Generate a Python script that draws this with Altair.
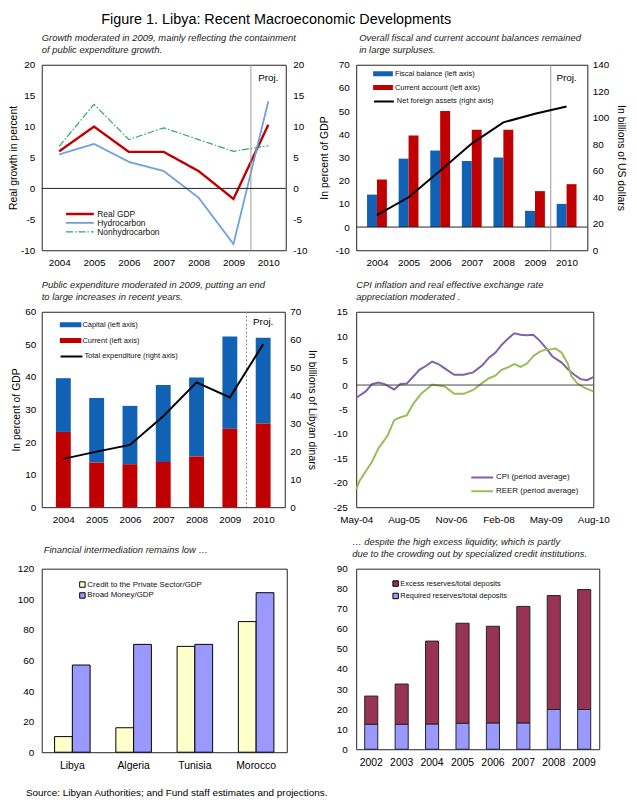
import altair as alt
import pandas as pd

FONT = "Liberation Sans"

# ---------------- data ----------------
years = [2004, 2005, 2006, 2007, 2008, 2009, 2010]
proj_boundary = [2009.5]
proj_label = ["Proj."]

growth_series = ["Real GDP", "Hydrocarbon", "Nonhydrocarbon"]
real_gdp = [6.0, 10.0, 5.9, 5.9, 2.8, -1.7, 10.3]
hydrocarbon = [5.5, 7.2, 4.3, 2.8, -1.5, -9.0, 14.1]
nonhydrocarbon = [6.8, 13.6, 7.9, 9.8, 7.9, 6.0, 6.9]

balance_series = ["Fiscal balance (left axis)", "Current account (left axis)"]
fiscal_balance = [14.0, 29.5, 33.0, 28.5, 30.0, 7.0, 10.0]
current_account = [20.5, 39.5, 50.0, 42.0, 42.0, 15.5, 18.5]
nfa_series = ["Net foreign assets (right axis)"]
net_foreign_assets = [26.5, 40.0, 60.0, 80.5, 96.5, 103.0, 108.5]

expend_series = ["Capital (left axis)", "Current (left axis)"]
exp_capital = [16.5, 19.8, 17.9, 23.6, 24.2, 28.3, 26.3]
exp_current = [23.1, 13.7, 13.2, 13.9, 15.6, 24.1, 25.7]
total_series = ["Total expenditure (right axis)"]
total_expenditure = [17.3, 19.9, 22.3, 32.6, 44.7, 39.3, 58.4]

# months counted from May-2004
month_labels = ["May-04", "Aug-05", "Nov-06", "Feb-08", "May-09", "Aug-10"]
month_ticks = [0, 15, 30, 45, 60, 75]
price_series = ["CPI (period average)", "REER (period average)"]
cpi_month = [0, 1, 3, 5, 7, 9, 12, 14, 16, 18, 20, 22, 24, 26, 28, 31, 34, 37, 40, 42,
             44, 46, 48, 50, 52, 54, 56, 58, 60, 62, 65, 67, 69, 71, 73, 75]
cpi_value = [-2.6, -2.2, -1.3, 0.2, 0.5, 0.2, -0.9, 0.2, 0.3, 1.7, 3.1, 3.9, 4.8, 4.3, 3.4,
             2.1, 2.1, 2.6, 4.1, 5.6, 6.6, 8.2, 9.5, 10.6, 10.3, 10.2, 10.3, 9.1, 7.6, 5.9,
             4.6, 3.2, 2.1, 1.2, 1.0, 1.6]
reer_month = [0, 1, 3, 5, 7, 10, 12, 14, 16, 18, 20, 21, 23, 24, 26, 28, 31, 34, 37, 40,
              42, 44, 46, 48, 50, 52, 54, 56, 58, 60, 62, 63, 65, 67, 68, 70, 72, 75]
reer_value = [-21.4, -19.7, -17.7, -15.7, -13.0, -10.3, -7.2, -6.6, -6.2, -3.9, -2.2, -1.5,
              -0.5, 0.1, -0.1, -0.3, -1.8, -1.8, -1.0, 0.5, 1.4, 1.9, 3.1, 3.6, 4.3, 3.7,
              4.4, 5.9, 6.8, 7.3, 7.3, 7.5, 6.6, 4.3, 1.9, 0.3, -0.5, -1.3]

countries = ["Libya", "Algeria", "Tunisia", "Morocco"]
fin_series = ["Credit to the Private Sector/GDP", "Broad Money/GDP"]
credit_gdp = [10.2, 16.0, 69.2, 85.4]
broad_money_gdp = [57.0, 70.5, 70.5, 104.3]

reserve_years = ["2002", "2003", "2004", "2005", "2006", "2007", "2008", "2009"]
reserve_series = ["Excess reserves/total deposits", "Required reserves/total deposits"]
excess_reserves = [14.1, 20.1, 41.4, 49.9, 48.3, 58.2, 56.8, 59.8]
required_reserves = [12.4, 12.4, 12.5, 12.9, 13.0, 13.0, 19.8, 19.8]

zero_value = [0]

# ---------------- helpers ----------------
def panel_title(lines, offset=5, dx=0):
    return alt.TitleParams(text=lines, anchor="start", frame="group", font=FONT,
                           fontSize=9.5, fontStyle="italic", fontWeight="normal",
                           color="#222222", offset=offset, lineHeight=12, dx=dx)


def yaxis(vals, title=None, orient="left", pad=4, tpad=4, tsize=10.5):
    return alt.Axis(values=list(vals), orient=orient, title=title, ticks=False,
                    domain=False, grid=False, labelPadding=pad, titlePadding=tpad,
                    labelFont=FONT, labelFontSize=10, labelColor="black",
                    labelExpr="'' + datum.value",
                    titleFont=FONT, titleFontSize=tsize, titleFontWeight="normal",
                    titleColor="black", labelOverlap=False)


def year_x():
    return alt.X("year:Q", title=None,
                 scale=alt.Scale(domain=[2003.5, 2010.5], nice=False, zero=False),
                 axis=alt.Axis(values=years, format="d", title=None, ticks=False,
                               domain=False, grid=False, labelPadding=7,
                               labelFont=FONT, labelFontSize=10, labelColor="black",
                               labelFlush=False, labelOverlap=False))


def long_df(keys, keyname, series_names, *value_lists):
    rows = []
    for s, vals in zip(series_names, value_lists):
        for k, v in zip(keys, vals):
            rows.append({keyname: k, "series": s, "value": v})
    return pd.DataFrame(rows)


proj_df = pd.DataFrame({"year": proj_boundary})
proj_txt_df = pd.DataFrame({"year": [years[-1]], "label": proj_label})
zero_df = pd.DataFrame({"value": zero_value})

# ---------------- panel 1: growth ----------------
growth_df = long_df(years, "year", growth_series, real_gdp, hydrocarbon, nonhydrocarbon)
g_leg = alt.Legend(title=None, orient="none", legendX=23, legendY=146,
                   symbolType="stroke", symbolSize=784, labelFont=FONT,
                   labelFontSize=8.5, labelColor="#111111", rowPadding=0,
                   clipHeight=9, labelOffset=2)
y1 = alt.Y("value:Q", scale=alt.Scale(domain=[-10, 20], nice=False),
           axis=yaxis(range(-10, 21, 5), "Real growth in percent", pad=7, tpad=2))
g_lines = alt.Chart(growth_df).mark_line().encode(
    x=year_x(), y=y1,
    color=alt.Color("series:N", scale=alt.Scale(domain=growth_series,
                    range=["#C00000", "#6F9FDC", "#2FA866"]), legend=g_leg),
    strokeDash=alt.StrokeDash("series:N", scale=alt.Scale(domain=growth_series,
                              range=[[1, 0], [1, 0], [7, 2, 1.5, 2]]), legend=g_leg),
    strokeWidth=alt.StrokeWidth("series:N", scale=alt.Scale(domain=growth_series,
                                range=[2.4, 1.2, 1.2]), legend=g_leg),
)
g_proj = alt.Chart(proj_df).mark_rule(color="#999999", strokeWidth=1).encode(
    x=alt.X("year:Q", title=None))
g_txt = alt.Chart(proj_txt_df).mark_text(font=FONT, fontSize=10, baseline="top").encode(
    x=alt.X("year:Q", title=None), y=alt.value(8), text="label:N")
g_zero = alt.Chart(zero_df).mark_rule(color="#222222", strokeWidth=1).encode(
    y=alt.Y("value:Q", scale=alt.Scale(domain=[-10, 20], nice=False),
            axis=yaxis(range(-10, 21, 5), None, orient="right", pad=7)))
panel1 = alt.layer(alt.layer(g_lines, g_proj, g_txt), g_zero).resolve_scale(
    y="independent").properties(
    width=246, height=187,
    title=panel_title(["Growth moderated in 2009, mainly reflecting the containment",
                       "of  public expenditure growth."]))

# ---------------- panel 2: balances ----------------
bal_df = long_df(years, "year", balance_series, fiscal_balance, current_account)
b_leg = alt.Legend(title=None, orient="none", legendX=17, legendY=3,
                   symbolType="M-1,-0.25H1V0.25H-1Z", symbolSize=400,
                   symbolStrokeWidth=0, labelFont=FONT, labelFontSize=7.5,
                   labelColor="#111111", clipHeight=12, rowPadding=2, labelOffset=2)
color2 = alt.Color("series:N", scale=alt.Scale(domain=balance_series,
                   range=["#1162B5", "#C00000"]), legend=b_leg)
y2 = alt.Y("value:Q", scale=alt.Scale(domain=[-10, 70], nice=False),
           axis=yaxis(range(-10, 71, 10), "In percent of GDP", pad=7, tpad=5))
b_fiscal = alt.Chart(bal_df).transform_filter(
    alt.datum.series == balance_series[0]).mark_bar(width=10, xOffset=-5).encode(
    x=year_x(), y=y2, color=color2)
b_current = alt.Chart(bal_df).transform_filter(
    alt.datum.series == balance_series[1]).mark_bar(width=10, xOffset=5).encode(
    x=year_x(), y=y2, color=color2)
b_zero = alt.Chart(zero_df).mark_rule(color="#222222", strokeWidth=1).encode(y=y2)
b_proj = alt.Chart(proj_df).mark_rule(color="#999999", strokeWidth=1).encode(
    x=year_x())
b_txt = alt.Chart(proj_txt_df).mark_text(font=FONT, fontSize=10, baseline="top").encode(
    x=year_x(), y=alt.value(8), text="label:N")
nfa_df = long_df(years, "year", nfa_series, net_foreign_assets)
n_leg = alt.Legend(title=None, orient="none", legendX=17, legendY=31,
                   symbolType="stroke", symbolSize=400, symbolStrokeWidth=2,
                   labelFont=FONT, labelFontSize=7.5, labelColor="#111111",
                   clipHeight=12, labelOffset=2)
b_nfa = alt.Chart(nfa_df).mark_line(strokeWidth=2).encode(
    x=year_x(),
    y=alt.Y("value:Q", scale=alt.Scale(domain=[0, 140], nice=False),
            axis=yaxis(range(0, 141, 20), "In billions of US dollars",
                       orient="right", pad=5, tpad=7)),
    stroke=alt.Stroke("series:N", scale=alt.Scale(domain=nfa_series, range=["black"]),
                      legend=n_leg))
panel2 = alt.layer(alt.layer(b_fiscal, b_current, b_zero, b_proj, b_txt), b_nfa
                   ).resolve_scale(y="independent").properties(
    width=233, height=187,
    title=panel_title(["Overall fiscal and current account balances remained",
                       "in large surpluses."], dx=3))

# ---------------- panel 3: expenditure ----------------
exp_df = long_df(years, "year", expend_series, exp_capital, exp_current)
e_leg = alt.Legend(title=None, orient="none", legendX=18, legendY=7,
                   symbolType="M-1,-0.23H1V0.23H-1Z", symbolSize=484,
                   symbolStrokeWidth=0, labelFont=FONT, labelFontSize=7.5,
                   labelColor="#111111", clipHeight=12, rowPadding=4, labelOffset=1)
e_bars = alt.Chart(exp_df).mark_bar(width=15).encode(
    x=year_x(),
    y=alt.Y("value:Q", stack="zero", scale=alt.Scale(domain=[0, 60], nice=False),
            axis=yaxis(range(0, 61, 10), "In percent of GDP", pad=6, tpad=3)),
    color=alt.Color("series:N", scale=alt.Scale(domain=expend_series,
                    range=["#1162B5", "#C00000"]), legend=e_leg),
    order=alt.Order("series:N", sort="descending"))
e_proj = alt.Chart(proj_df).mark_rule(color="#888888", strokeWidth=1,
                                      strokeDash=[2, 2]).encode(x=year_x())
e_txt = alt.Chart(proj_txt_df).mark_text(font=FONT, fontSize=10, baseline="top").encode(
    x=year_x(), y=alt.value(5), text="label:N")
tot_df = long_df(years, "year", total_series, total_expenditure)
t_leg = alt.Legend(title=None, orient="none", legendX=18, legendY=39,
                   symbolType="stroke", symbolSize=484, symbolStrokeWidth=2,
                   labelFont=FONT, labelFontSize=7.5, labelColor="#111111",
                   clipHeight=12, labelOffset=1)
e_tot = alt.Chart(tot_df).mark_line(strokeWidth=2).encode(
    x=year_x(),
    y=alt.Y("value:Q", scale=alt.Scale(domain=[0, 70], nice=False),
            axis=yaxis(range(0, 71, 10), "In billions of Libyan dinars",
                       orient="right", pad=5, tpad=6)),
    stroke=alt.Stroke("series:N", scale=alt.Scale(domain=total_series, range=["black"]),
                      legend=t_leg))
panel3 = alt.layer(alt.layer(e_bars, e_proj, e_txt), e_tot).resolve_scale(
    y="independent").properties(
    width=245, height=197,
    title=panel_title(["Public expenditure moderated in 2009, putting an end",
                       "to large increases in recent years."]))

# ---------------- panel 4: CPI / REER ----------------
price_df = pd.concat([
    pd.DataFrame({"month": cpi_month, "series": price_series[0], "value": cpi_value}),
    pd.DataFrame({"month": reer_month, "series": price_series[1], "value": reer_value}),
])
p_leg = alt.Legend(title=None, orient="none", legendX=115, legendY=162,
                   symbolType="stroke", symbolSize=484, symbolStrokeWidth=2,
                   labelFont=FONT, labelFontSize=8, labelColor="#111111",
                   clipHeight=10, rowPadding=4, labelOffset=2)
label_expr = str(month_labels) + "[round(datum.value / 15)]"
x4 = alt.X("month:Q", title=None, scale=alt.Scale(domain=[0, 75], nice=False),
           axis=alt.Axis(values=month_ticks, labelExpr=label_expr, title=None,
                         ticks=False, domain=False, grid=False, labelPadding=7,
                         labelFont=FONT, labelFontSize=10, labelColor="black",
                         labelFlush=False, labelOverlap=False))
y4 = alt.Y("value:Q", scale=alt.Scale(domain=[-25, 15], nice=False),
           axis=yaxis(range(-25, 16, 5), None, pad=9))
p_lines = alt.Chart(price_df).mark_line(strokeWidth=2).encode(
    x=x4, y=y4,
    color=alt.Color("series:N", scale=alt.Scale(domain=price_series,
                    range=["#7F62A8", "#9BBB59"]), legend=p_leg))
p_zero = alt.Chart(zero_df).mark_rule(color="#444444", strokeWidth=1).encode(y=y4)
panel4 = alt.layer(p_lines, p_zero).properties(
    width=239, height=197,
    title=panel_title(["CPI inflation and real effective exchange rate",
                       "appreciation  moderated ."]))

# ---------------- panel 5: financial intermediation ----------------
fin_df = long_df(countries, "country", fin_series, credit_gdp, broad_money_gdp)
f_leg = alt.Legend(title=None, orient="none", legendX=37, legendY=11,
                   symbolType="square", symbolSize=30, symbolStrokeColor="black",
                   symbolStrokeWidth=1, labelFont=FONT, labelFontSize=8,
                   labelColor="#111111", clipHeight=10, rowPadding=1, labelOffset=1)
panel5 = alt.Chart(fin_df).mark_bar(stroke="black", strokeWidth=1).encode(
    x=alt.X("country:N", sort=countries, title=None,
            scale=alt.Scale(paddingInner=0.42, paddingOuter=0.21),
            axis=alt.Axis(labelAngle=0, title=None, ticks=False, domain=False,
                          labelPadding=8, labelFont=FONT, labelFontSize=10.5,
                          labelColor="black")),
    xOffset=alt.XOffset("series:N", sort=fin_series,
                        scale=alt.Scale(domain=fin_series)),
    y=alt.Y("value:Q", scale=alt.Scale(domain=[0, 120], nice=False),
            axis=yaxis(range(0, 121, 20), None, pad=8)),
    color=alt.Color("series:N", scale=alt.Scale(domain=fin_series,
                    range=["#FFFFCC", "#9999FF"]), legend=f_leg),
).properties(width=247, height=185,
             title=panel_title("Financial intermediation remains low \u2026",
                               offset=9, dx=2))

# ---------------- panel 6: reserves ----------------
res_df = long_df(reserve_years, "year", reserve_series, excess_reserves, required_reserves)
r_leg = alt.Legend(title=None, orient="none", legendX=36, legendY=10,
                   symbolType="square", symbolSize=30, symbolStrokeColor="black",
                   symbolStrokeWidth=1, labelFont=FONT, labelFontSize=7.5,
                   labelColor="#111111", clipHeight=10, rowPadding=2.5, labelOffset=1)
panel6 = alt.Chart(res_df).mark_bar(stroke="#222222", strokeWidth=1).encode(
    x=alt.X("year:O", sort=reserve_years, title=None,
            scale=alt.Scale(paddingInner=0.57, paddingOuter=0.28),
            axis=alt.Axis(labelAngle=0, title=None, ticks=False, domain=False,
                          labelPadding=8, labelFont=FONT, labelFontSize=10.5,
                          labelColor="black")),
    y=alt.Y("value:Q", stack="zero", scale=alt.Scale(domain=[0, 90], nice=False),
            axis=yaxis(range(0, 91, 10), None, pad=9)),
    color=alt.Color("series:N", scale=alt.Scale(domain=reserve_series,
                    range=["#993355", "#9999FF"]), legend=r_leg),
    order=alt.Order("series:N", sort="descending"),
).properties(width=245, height=182,
             title=panel_title(["\u2026 despite the high excess liquidity, which is partly",
                                "due to the crowding out by specialized credit institutions."],
                               dx=-4))

# ---------------- layout ----------------
grid = alt.concat(
    panel1, panel2, panel3, panel4, panel5, panel6,
    columns=2, spacing={"row": 62, "column": 70}, bounds="flush",
    title=alt.TitleParams("Figure 1. Libya: Recent Macroeconomic Developments",
                          font=FONT, fontSize=14.5, fontWeight="normal", color="black",
                          anchor="start", dx=94, offset=6),
).resolve_scale(color="independent", stroke="independent",
                strokeDash="independent", strokeWidth="independent")

chart = alt.vconcat(
    grid,
    title=alt.TitleParams("Source: Libyan Authorities; and Fund staff estimates and projections.",
                          orient="bottom", font=FONT, fontSize=10, fontWeight="normal",
                          color="black", anchor="start", dx=18, offset=17),
).configure(
    font=FONT, padding={"left": 0, "top": 0, "right": 2, "bottom": 2}
).configure_axis(labelOverlap=False).configure_view(stroke="#222222", strokeWidth=1)

chart.save("out.html", embed_options={"renderer": "svg", "actions": False})
